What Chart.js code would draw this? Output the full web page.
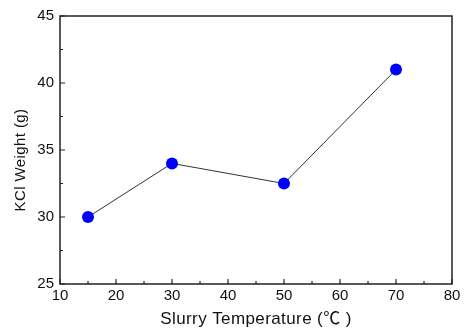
<!DOCTYPE html>
<html>
<head>
<meta charset="utf-8">
<script src="https://cdn.jsdelivr.net/npm/chart.js@4/dist/chart.umd.min.js"></script>
<style>
html,body{margin:0;padding:0;background:#fff;}
#wrap{width:464px;height:328px;}
</style>
</head>
<body>
<div id="wrap"><canvas id="c" width="464" height="328"></canvas></div>
<script>
const temperatures = [15, 30, 50, 70];
const kclWeight = [30, 34, 32.5, 41];
const xTickLabels = [10, 20, 30, 40, 50, 60, 70, 80];
const yTickLabels = [25, 30, 35, 40, 45];
const xMinorTicks = [15, 25, 35, 45, 55, 65, 75];
const yMinorTicks = [27.5, 32.5, 37.5, 42.5];
const xTitle = 'Slurry Temperature (\u2103 )';
const yTitle = 'KCl Weight (g)';

const FONT = '"Liberation Sans", Arial, "Noto Sans CJK KR", sans-serif';

const framePlugin = {
  id: 'frame',
  afterDraw(chart) {
    const ctx = chart.ctx;
    const a = chart.chartArea;
    const xs = chart.scales.x, ys = chart.scales.y;
    ctx.save();
    ctx.strokeStyle = '#222';
    ctx.lineWidth = 1.5;
    ctx.strokeRect(a.left, a.top, a.right - a.left, a.bottom - a.top);
    ctx.lineWidth = 1.2;
    ctx.beginPath();
    xTickLabels.forEach(v => { const px = xs.getPixelForValue(v); ctx.moveTo(px, a.bottom); ctx.lineTo(px, a.bottom - 5); });
    xMinorTicks.forEach(v => { const px = xs.getPixelForValue(v); ctx.moveTo(px, a.bottom); ctx.lineTo(px, a.bottom - 3); });
    yTickLabels.forEach(v => { const py = ys.getPixelForValue(v); ctx.moveTo(a.left, py); ctx.lineTo(a.left + 5, py); });
    yMinorTicks.forEach(v => { const py = ys.getPixelForValue(v); ctx.moveTo(a.left, py); ctx.lineTo(a.left + 3, py); });
    ctx.stroke();
    ctx.fillStyle = '#111';
    ctx.font = '15px ' + FONT;
    ctx.textAlign = 'center';
    ctx.textBaseline = 'middle';
    xTickLabels.forEach(v => ctx.fillText(String(v), xs.getPixelForValue(v), a.bottom + 12));
    ctx.textAlign = 'right';
    yTickLabels.forEach(v => ctx.fillText(String(v), a.left - 6, ys.getPixelForValue(v)));
    ctx.font = '17px ' + FONT;
    ctx.textAlign = 'center';
    try { ctx.letterSpacing = '0.4px'; } catch (e) {}
    ctx.fillText(xTitle, (a.left + a.right) / 2, 319);
    ctx.font = '15px ' + FONT;
    ctx.save();
    ctx.translate(21, 160);
    ctx.rotate(-Math.PI / 2);
    ctx.fillText(yTitle, 0, 0);
    ctx.restore();
    ctx.restore();
  }
};

new Chart(document.getElementById('c'), {
  type: 'scatter',
  data: {
    datasets: [{
      data: temperatures.map((t, i) => ({x: t, y: kclWeight[i]})),
      showLine: true,
      borderColor: '#333',
      borderWidth: 1,
      pointRadius: 6,
      pointBackgroundColor: '#0000ff',
      pointBorderColor: '#0000ff',
      pointBorderWidth: 0
    }]
  },
  options: {
    responsive: false,
    animation: false,
    devicePixelRatio: 1,
    layout: {padding: {left: 60, right: 12, top: 16, bottom: 44}},
    plugins: {legend: {display: false}, tooltip: {enabled: false}},
    scales: {
      x: {type: 'linear', min: 10, max: 80, display: false},
      y: {type: 'linear', min: 25, max: 45, display: false}
    }
  },
  plugins: [framePlugin]
});
</script>
</body>
</html>
